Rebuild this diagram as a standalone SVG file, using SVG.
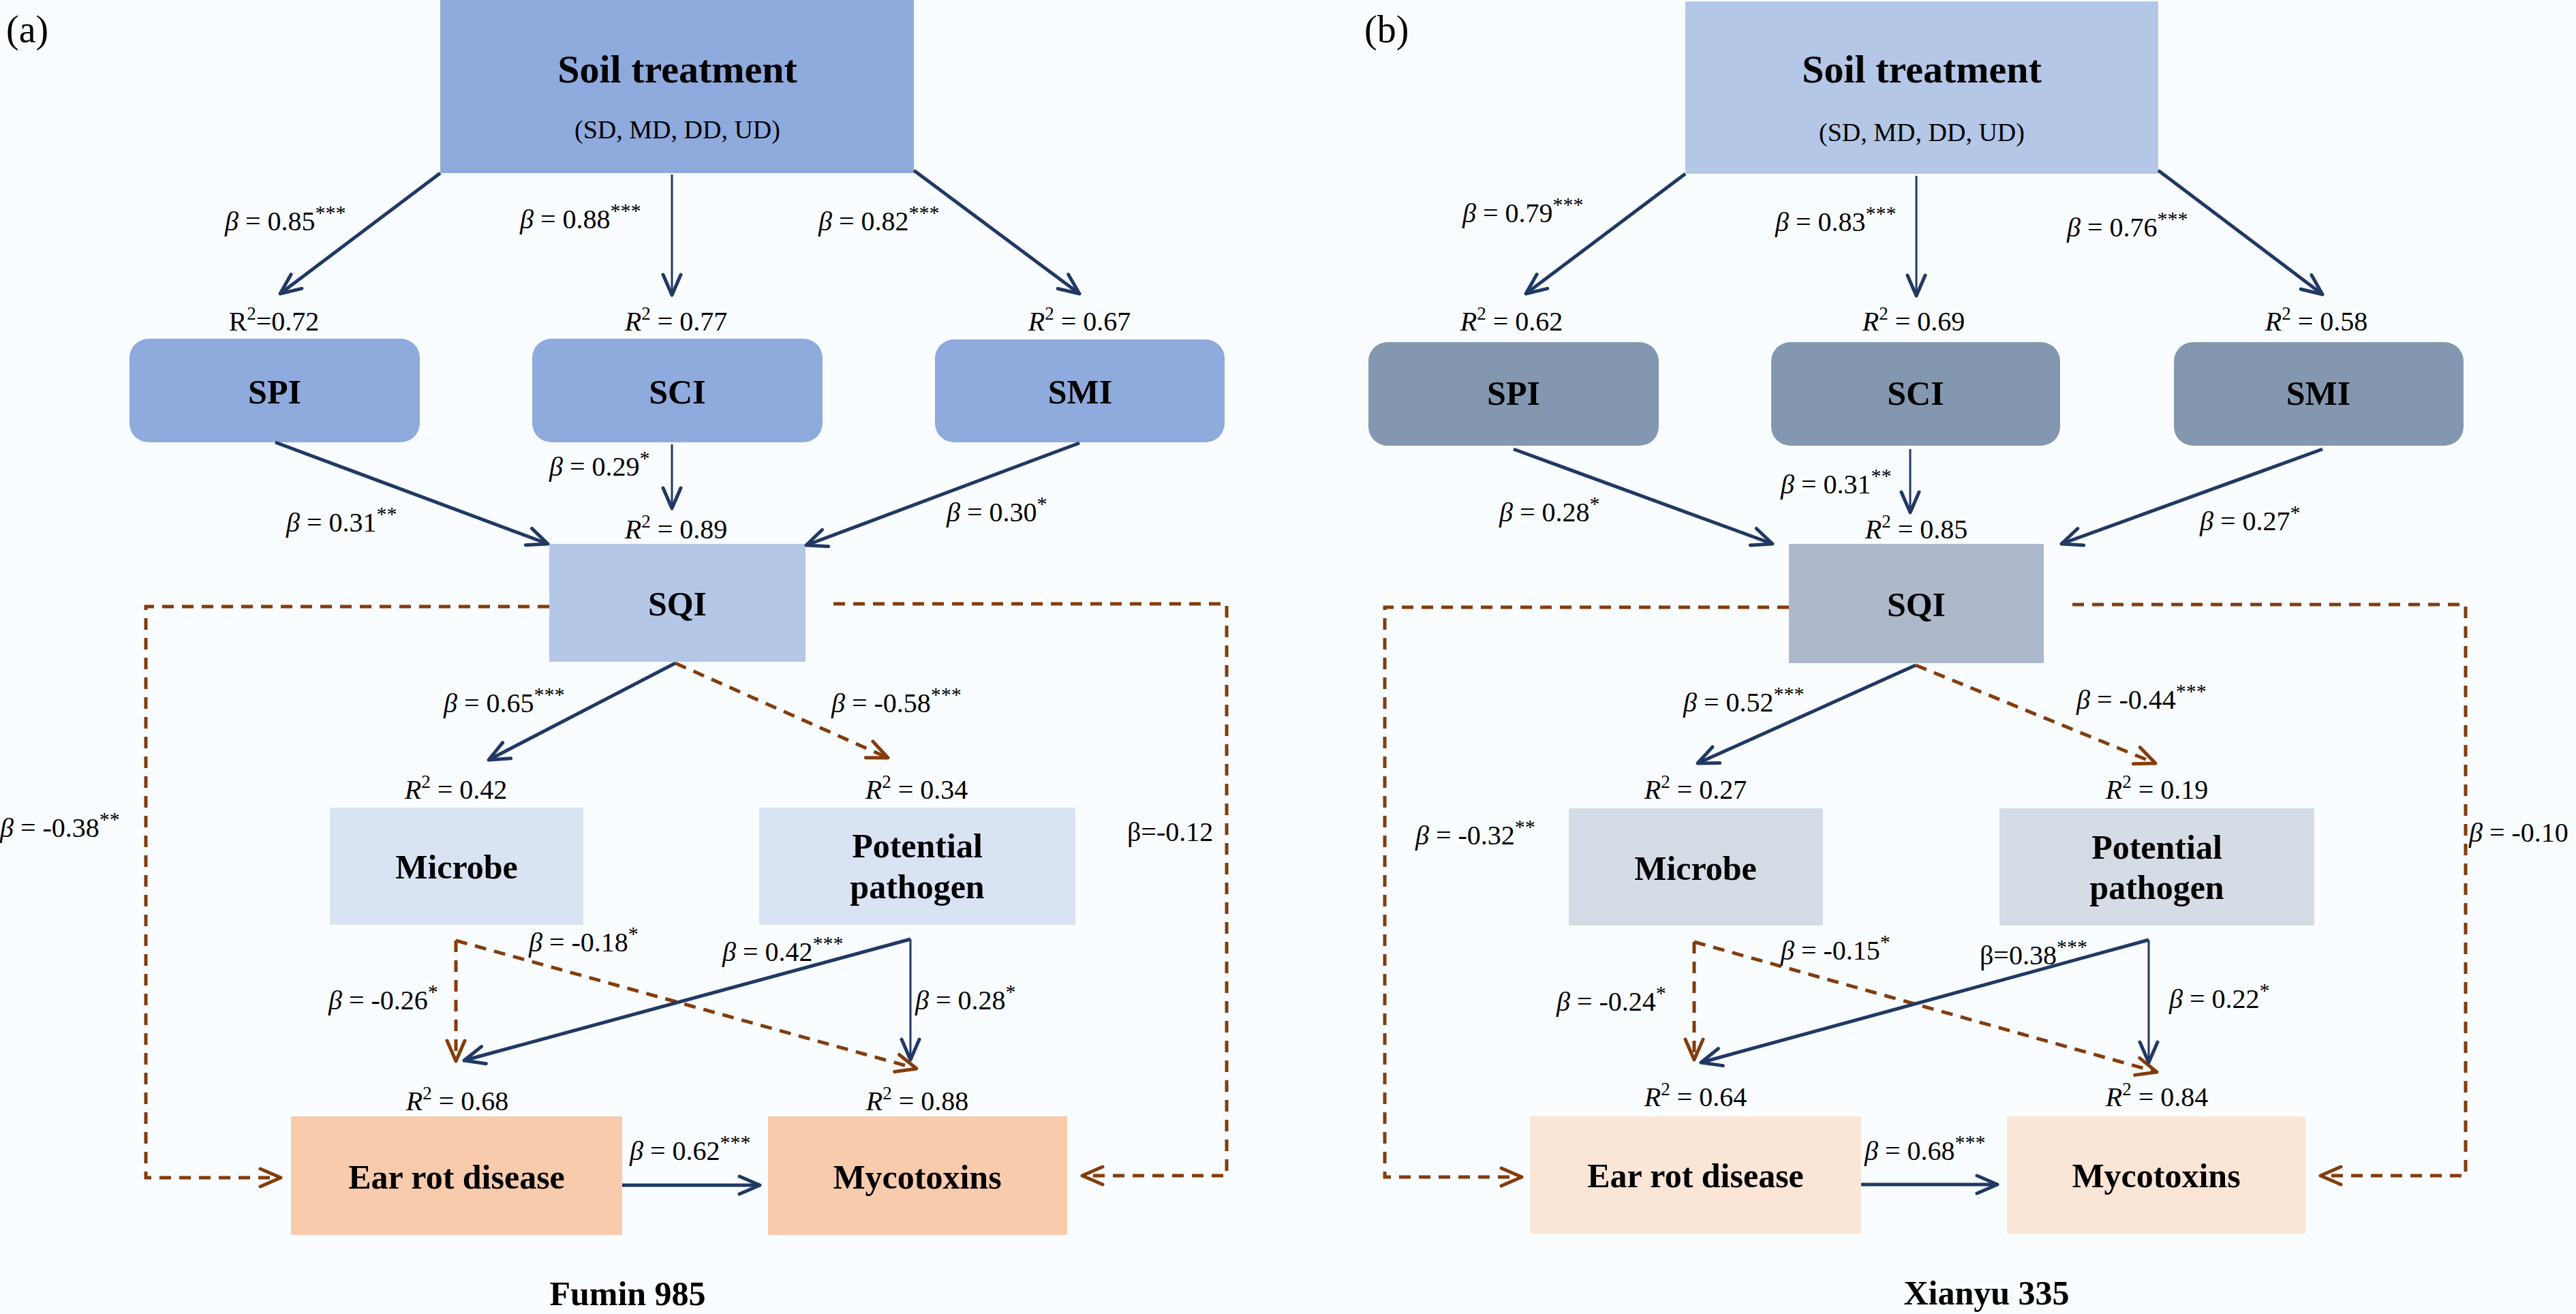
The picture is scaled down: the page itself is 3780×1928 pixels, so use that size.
<svg xmlns="http://www.w3.org/2000/svg" width="3780" height="1928" viewBox="0 0 3780 1928">
<defs>
<style>
text{font-family:"Liberation Serif","Times New Roman",serif;fill:#000}
.lbl{font-size:50px;font-weight:bold;text-anchor:middle}
.big{font-size:58px;font-weight:bold;text-anchor:middle}
.sub{font-size:38px;text-anchor:middle}
.b{font-size:40px}
.r{font-size:40px;text-anchor:middle}
.it{font-style:italic}
.sup{font-size:30px}
.sq{font-size:27px}
.pan{font-size:56px}
.cap{font-size:50px;font-weight:bold;text-anchor:middle}
.s{fill:none;stroke:#203864;stroke-width:5;marker-end:url(#an)}
.t{fill:none;stroke:#203864;stroke-width:3;marker-end:url(#an)}
.d{fill:none;stroke:#843C0C;stroke-width:5;stroke-dasharray:17 12;marker-end:url(#ab)}
</style>
<marker id="an" markerUnits="userSpaceOnUse" viewBox="-36 -18 40 36" refX="0" refY="0" markerWidth="40" markerHeight="36" orient="auto" overflow="visible">
<path d="M-30,-13 L0,0 L-30,13" fill="none" stroke="#203864" stroke-width="5" stroke-linecap="round" stroke-linejoin="round" stroke-dasharray="none"/>
</marker>
<marker id="ab" markerUnits="userSpaceOnUse" viewBox="-36 -18 40 36" refX="0" refY="0" markerWidth="40" markerHeight="36" orient="auto" overflow="visible">
<path d="M-30,-13 L0,0 L-30,13" fill="none" stroke="#843C0C" stroke-width="5" stroke-linecap="round" stroke-linejoin="round" stroke-dasharray="none"/>
</marker>
</defs>
<rect x="0" y="0" width="3780" height="1928" fill="#F9FDFF"/>

<!-- Panel (a) nodes -->
<g id="a-soil"><rect x="646" y="0" width="695" height="254" fill="#8FAADC"/><text class="big" x="994" y="121">Soil treatment</text><text class="sub" x="994" y="203">(SD, MD, DD, UD)</text></g>
<g id="a-spi"><rect x="190" y="497" width="426" height="152" rx="28" fill="#8FAADC"/><text class="lbl" x="403" y="592">SPI</text></g>
<g id="a-sci"><rect x="781" y="497" width="426" height="152" rx="28" fill="#8FAADC"/><text class="lbl" x="994" y="592">SCI</text></g>
<g id="a-smi"><rect x="1372" y="498" width="425" height="151" rx="28" fill="#8FAADC"/><text class="lbl" x="1585" y="592">SMI</text></g>
<g id="a-sqi"><rect x="806" y="798" width="376" height="173" fill="#B4C7E7"/><text class="lbl" x="994" y="903">SQI</text></g>
<g id="a-microbe"><rect x="484" y="1185" width="372" height="172" fill="#DAE3F3"/><text class="lbl" x="670" y="1289">Microbe</text></g>
<g id="a-pathogen"><rect x="1114" y="1185" width="464" height="172" fill="#DAE3F3"/><text class="lbl" x="1346" y="1258">Potential</text><text class="lbl" x="1346" y="1318">pathogen</text></g>
<g id="a-ear"><rect x="427" y="1638" width="486" height="174" fill="#F8CBAD"/><text class="lbl" x="670" y="1744">Ear rot disease</text></g>
<g id="a-myco"><rect x="1127" y="1638" width="439" height="174" fill="#F8CBAD"/><text class="lbl" x="1346" y="1744">Mycotoxins</text></g>

<!-- Panel (b) nodes -->
<g id="b-soil"><rect x="2473" y="2" width="694" height="253" fill="#B4C7E7"/><text class="big" x="2820" y="121">Soil treatment</text><text class="sub" x="2820" y="207">(SD, MD, DD, UD)</text></g>
<g id="b-spi"><rect x="2008" y="502" width="426" height="152" rx="28" fill="#8497B0"/><text class="lbl" x="2221" y="594">SPI</text></g>
<g id="b-sci"><rect x="2599" y="502" width="424" height="152" rx="28" fill="#8497B0"/><text class="lbl" x="2811" y="594">SCI</text></g>
<g id="b-smi"><rect x="3190" y="502" width="425" height="152" rx="28" fill="#8497B0"/><text class="lbl" x="3402" y="594">SMI</text></g>
<g id="b-sqi"><rect x="2625" y="798" width="374" height="175" fill="#ADB9CA"/><text class="lbl" x="2812" y="904">SQI</text></g>
<g id="b-microbe"><rect x="2302" y="1186" width="373" height="172" fill="#D6DCE5"/><text class="lbl" x="2488" y="1291">Microbe</text></g>
<g id="b-pathogen"><rect x="2934" y="1186" width="462" height="172" fill="#D6DCE5"/><text class="lbl" x="3165" y="1260">Potential</text><text class="lbl" x="3165" y="1319">pathogen</text></g>
<g id="b-ear"><rect x="2245" y="1638" width="486" height="172" fill="#FBE5D6"/><text class="lbl" x="2488" y="1742">Ear rot disease</text></g>
<g id="b-myco"><rect x="2945" y="1638" width="438" height="172" fill="#FBE5D6"/><text class="lbl" x="3164" y="1742">Mycotoxins</text></g>

<!-- Connectors -->
<g id="connectors">
<line class="s" x1="646" y1="254" x2="411" y2="431"/>
<line class="t" x1="986" y1="256" x2="986" y2="433"/>
<line class="s" x1="1341" y1="250" x2="1584" y2="431"/>
<line class="s" x1="404" y1="649" x2="804" y2="798"/>
<line class="t" x1="986" y1="652" x2="986" y2="746"/>
<line class="s" x1="1584" y1="650" x2="1183" y2="800"/>
<line class="s" x1="991" y1="973" x2="717" y2="1115"/>
<line class="d" x1="991" y1="973" x2="1303" y2="1112"/>
<polyline class="d" points="806,890 214,890 214,1728 412,1728"/>
<polyline class="d" points="1223,886 1800,886 1800,1725 1588,1725"/>
<line class="d" stroke-width="4" x1="669" y1="1380" x2="669" y2="1557"/>
<line class="d" x1="669" y1="1380" x2="1345" y2="1568"/>
<line class="s" x1="1336" y1="1378" x2="681" y2="1556"/>
<line class="t" x1="1336" y1="1378" x2="1336" y2="1555"/>
<line class="s" x1="913" y1="1739" x2="1115" y2="1739"/>

<line class="s" x1="2473" y1="255" x2="2239" y2="431"/>
<line class="t" x1="2812" y1="258" x2="2812" y2="434"/>
<line class="s" x1="3167" y1="250" x2="3408" y2="432"/>
<line class="s" x1="2221" y1="659" x2="2601" y2="798"/>
<line class="t" x1="2803" y1="659" x2="2803" y2="752"/>
<line class="s" x1="3408" y1="659" x2="3025" y2="798"/>
<line class="s" x1="2811" y1="976" x2="2491" y2="1120"/>
<line class="d" x1="2811" y1="976" x2="3163" y2="1120"/>
<polyline class="d" points="2625,891 2032,891 2032,1727 2233,1727"/>
<polyline class="d" points="3041,887 3618,887 3618,1725 3405,1725"/>
<line class="d" stroke-width="4" x1="2486" y1="1382" x2="2486" y2="1555"/>
<line class="d" x1="2486" y1="1382" x2="3165" y2="1573"/>
<line class="s" x1="3153" y1="1379" x2="2496" y2="1559"/>
<line class="t" x1="3153" y1="1379" x2="3153" y2="1559"/>
<line class="s" x1="2731" y1="1738" x2="2931" y2="1738"/>
</g>

<!-- Panel labels and titles -->
<text class="pan" x="9" y="62">(a)</text>
<text class="pan" x="2002" y="62">(b)</text>
<text class="cap" x="921" y="1915">Fumin 985</text>
<text class="cap" x="2915" y="1914">Xianyu 335</text>

<!-- Panel (a) coefficients -->
<g id="a-coef">
<text class="b" x="330" y="338"><tspan class="it">β</tspan> = 0.85<tspan class="sup" dy="-16">***</tspan></text>
<text class="b" x="763" y="335"><tspan class="it">β</tspan> = 0.88<tspan class="sup" dy="-16">***</tspan></text>
<text class="b" x="1201" y="338"><tspan class="it">β</tspan> = 0.82<tspan class="sup" dy="-16">***</tspan></text>
<text class="b" x="806" y="698"><tspan class="it">β</tspan> = 0.29<tspan class="sup" dy="-16">*</tspan></text>
<text class="b" x="420" y="780"><tspan class="it">β</tspan> = 0.31<tspan class="sup" dy="-16">**</tspan></text>
<text class="b" x="1389" y="765"><tspan class="it">β</tspan> = 0.30<tspan class="sup" dy="-16">*</tspan></text>
<text class="b" x="651" y="1045"><tspan class="it">β</tspan> = 0.65<tspan class="sup" dy="-16">***</tspan></text>
<text class="b" x="1220" y="1045"><tspan class="it">β</tspan> = -0.58<tspan class="sup" dy="-16">***</tspan></text>
<text class="b" x="0" y="1228"><tspan class="it">β</tspan> = -0.38<tspan class="sup" dy="-16">**</tspan></text>
<text class="b" x="1654" y="1234">β=-0.12</text>
<text class="b" x="776" y="1396"><tspan class="it">β</tspan> = -0.18<tspan class="sup" dy="-16">*</tspan></text>
<text class="b" x="1060" y="1410"><tspan class="it">β</tspan> = 0.42<tspan class="sup" dy="-16">***</tspan></text>
<text class="b" x="482" y="1481"><tspan class="it">β</tspan> = -0.26<tspan class="sup" dy="-16">*</tspan></text>
<text class="b" x="1343" y="1481"><tspan class="it">β</tspan> = 0.28<tspan class="sup" dy="-16">*</tspan></text>
<text class="b" x="924" y="1702"><tspan class="it">β</tspan> = 0.62<tspan class="sup" dy="-16">***</tspan></text>
<text class="r" x="402" y="485">R<tspan class="sq" dy="-16">2</tspan><tspan dy="16">=0.72</tspan></text>
<text class="r" x="992" y="485"><tspan class="it">R</tspan><tspan class="sq" dy="-16">2</tspan><tspan dy="16"> = 0.77</tspan></text>
<text class="r" x="1584" y="485"><tspan class="it">R</tspan><tspan class="sq" dy="-16">2</tspan><tspan dy="16"> = 0.67</tspan></text>
<text class="r" x="992" y="790"><tspan class="it">R</tspan><tspan class="sq" dy="-16">2</tspan><tspan dy="16"> = 0.89</tspan></text>
<text class="r" x="669" y="1172"><tspan class="it">R</tspan><tspan class="sq" dy="-16">2</tspan><tspan dy="16"> = 0.42</tspan></text>
<text class="r" x="1345" y="1172"><tspan class="it">R</tspan><tspan class="sq" dy="-16">2</tspan><tspan dy="16"> = 0.34</tspan></text>
<text class="r" x="671" y="1629"><tspan class="it">R</tspan><tspan class="sq" dy="-16">2</tspan><tspan dy="16"> = 0.68</tspan></text>
<text class="r" x="1346" y="1629"><tspan class="it">R</tspan><tspan class="sq" dy="-16">2</tspan><tspan dy="16"> = 0.88</tspan></text>
</g>

<!-- Panel (b) coefficients -->
<g id="b-coef">
<text class="b" x="2146" y="326"><tspan class="it">β</tspan> = 0.79<tspan class="sup" dy="-16">***</tspan></text>
<text class="b" x="2605" y="339"><tspan class="it">β</tspan> = 0.83<tspan class="sup" dy="-16">***</tspan></text>
<text class="b" x="3033" y="347"><tspan class="it">β</tspan> = 0.76<tspan class="sup" dy="-16">***</tspan></text>
<text class="b" x="2200" y="765"><tspan class="it">β</tspan> = 0.28<tspan class="sup" dy="-16">*</tspan></text>
<text class="b" x="2613" y="724"><tspan class="it">β</tspan> = 0.31<tspan class="sup" dy="-16">**</tspan></text>
<text class="b" x="3228" y="778"><tspan class="it">β</tspan> = 0.27<tspan class="sup" dy="-16">*</tspan></text>
<text class="b" x="2470" y="1044"><tspan class="it">β</tspan> = 0.52<tspan class="sup" dy="-16">***</tspan></text>
<text class="b" x="3047" y="1040"><tspan class="it">β</tspan> = -0.44<tspan class="sup" dy="-16">***</tspan></text>
<text class="b" x="2077" y="1239"><tspan class="it">β</tspan> = -0.32<tspan class="sup" dy="-16">**</tspan></text>
<text class="b" x="3623" y="1235"><tspan class="it">β</tspan> = -0.10</text>
<text class="b" x="2613" y="1408"><tspan class="it">β</tspan> = -0.15<tspan class="sup" dy="-16">*</tspan></text>
<text class="b" x="2905" y="1415">β=0.38<tspan class="sup" dy="-16">***</tspan></text>
<text class="b" x="2284" y="1483"><tspan class="it">β</tspan> = -0.24<tspan class="sup" dy="-16">*</tspan></text>
<text class="b" x="3183" y="1479"><tspan class="it">β</tspan> = 0.22<tspan class="sup" dy="-16">*</tspan></text>
<text class="b" x="2736" y="1702"><tspan class="it">β</tspan> = 0.68<tspan class="sup" dy="-16">***</tspan></text>
<text class="r" x="2218" y="485"><tspan class="it">R</tspan><tspan class="sq" dy="-16">2</tspan><tspan dy="16"> = 0.62</tspan></text>
<text class="r" x="2808" y="485"><tspan class="it">R</tspan><tspan class="sq" dy="-16">2</tspan><tspan dy="16"> = 0.69</tspan></text>
<text class="r" x="3399" y="485"><tspan class="it">R</tspan><tspan class="sq" dy="-16">2</tspan><tspan dy="16"> = 0.58</tspan></text>
<text class="r" x="2812" y="790"><tspan class="it">R</tspan><tspan class="sq" dy="-16">2</tspan><tspan dy="16"> = 0.85</tspan></text>
<text class="r" x="2488" y="1172"><tspan class="it">R</tspan><tspan class="sq" dy="-16">2</tspan><tspan dy="16"> = 0.27</tspan></text>
<text class="r" x="3165" y="1172"><tspan class="it">R</tspan><tspan class="sq" dy="-16">2</tspan><tspan dy="16"> = 0.19</tspan></text>
<text class="r" x="2488" y="1623"><tspan class="it">R</tspan><tspan class="sq" dy="-16">2</tspan><tspan dy="16"> = 0.64</tspan></text>
<text class="r" x="3165" y="1623"><tspan class="it">R</tspan><tspan class="sq" dy="-16">2</tspan><tspan dy="16"> = 0.84</tspan></text>
</g>
</svg>
